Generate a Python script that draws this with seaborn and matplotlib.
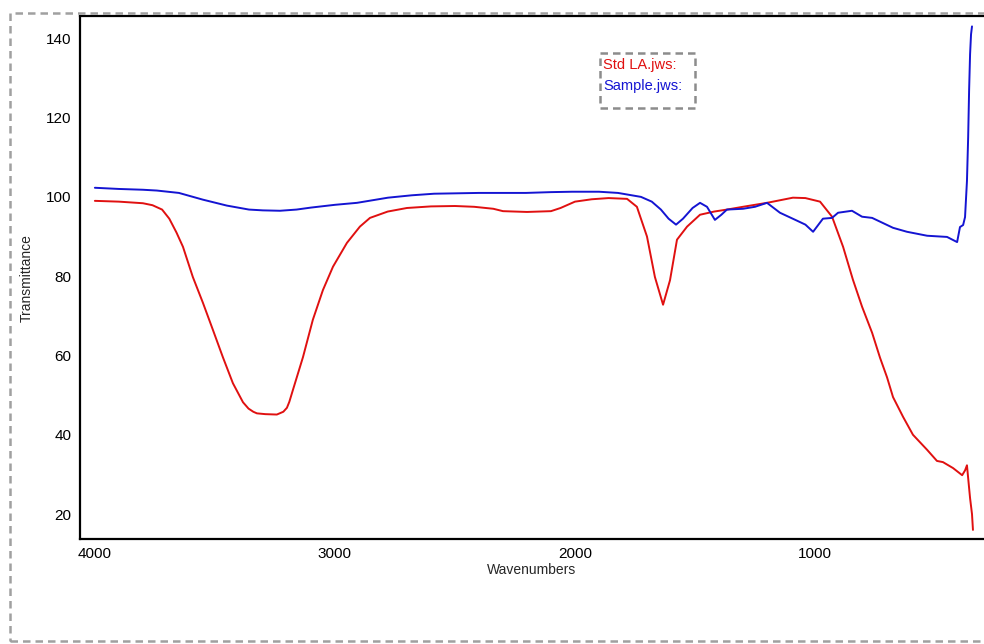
import pandas as pd
import seaborn as sns
import numpy as np
import matplotlib.pyplot as plt
from matplotlib.patches import Rectangle

# Std LA.jws spectrum (wavenumber, %T)
red_wn = [4000, 3900, 3800, 3760, 3720, 3690, 3660, 3633, 3592, 3550, 3508, 3467,
          3425, 3383, 3360, 3340, 3325, 3290, 3242, 3215, 3200, 3190, 3175, 3133,
          3092, 3050, 3008, 2950, 2896, 2854, 2780, 2700, 2600, 2500, 2420, 2340,
          2300, 2200, 2100, 2060, 2000, 1930, 1860, 1783, 1742, 1700, 1667, 1633,
          1604, 1575, 1533, 1479, 1420, 1367, 1300, 1200, 1092, 1040, 979, 929, 883,
          842, 804, 762, 729, 700, 675, 633, 592, 533, 492, 467, 425, 387, 375, 367,
          360, 354, 346, 342]
red_t = [99.0, 98.8, 98.4, 97.9, 96.8, 94.5, 91.0, 87.4, 79.8, 73.3, 66.4, 59.6,
         53.0, 48.2, 46.6, 45.8, 45.4, 45.2, 45.1, 45.8, 46.8, 48.3, 51.3, 59.6,
         69.0, 76.5, 82.4, 88.4, 92.5, 94.7, 96.3, 97.2, 97.6, 97.7, 97.5, 97.0,
         96.4, 96.2, 96.4, 97.2, 98.8, 99.4, 99.7, 99.5, 97.5, 90.0, 79.8, 72.8,
         79.0, 89.2, 92.5, 95.5, 96.3, 96.8, 97.5, 98.5, 99.8, 99.7, 98.8, 95.0, 87.4,
         79.1, 72.3, 65.7, 59.4, 54.5, 49.5, 44.5, 40.0, 36.2, 33.4, 33.1, 31.6, 29.8,
         31.0, 32.3, 27.8, 24.0, 20.0, 16.0]

# Sample.jws spectrum
blue_wn = [4000, 3900, 3800, 3742, 3650, 3550, 3450, 3358, 3300, 3229, 3160, 3100,
           3000, 2908, 2779, 2680, 2587, 2400, 2204, 2100, 2012, 1900, 1821, 1725,
           1680, 1642, 1610, 1579, 1550, 1510, 1479, 1450, 1417, 1390, 1367, 1300,
           1250, 1200, 1146, 1075, 1040, 1008, 967, 929, 904, 846, 804, 762, 675,
           617, 533, 450, 408, 396, 383, 375, 367, 362, 358, 354, 350, 346]
blue_t = [102.3, 102.0, 101.8, 101.6, 101.0, 99.3, 97.8, 96.8, 96.6, 96.5, 96.8, 97.3,
          98.0, 98.5, 99.8, 100.4, 100.8, 101.0, 101.0, 101.2, 101.3, 101.3, 101.0, 100.0,
          98.8, 96.8, 94.5, 93.0, 94.5, 97.2, 98.5, 97.5, 94.2, 95.5, 96.8, 97.0,
          97.5, 98.5, 96.0, 94.0, 93.0, 91.2, 94.5, 94.7, 96.0, 96.5, 95.0, 94.7, 92.2,
          91.2, 90.2, 89.9, 88.6, 92.4, 92.9, 94.9, 104.0, 115.0, 127.0, 136.0, 141.0, 143.0]

series_names = ["Std LA.jws:", "Sample.jws:"]
series_colors = ["#e01010", "#1414d2"]

df = pd.concat([
    pd.DataFrame({"wn": red_wn, "T": red_t, "series": series_names[0]}),
    pd.DataFrame({"wn": blue_wn, "T": blue_t, "series": series_names[1]}),
])

sns.set_style("white")
plt.rcParams['font.family'] = ['Liberation Sans', 'DejaVu Sans']

fig = plt.figure(figsize=(9.84, 6.44), dpi=100)
ax = fig.add_axes([0.0813, 0.163, 0.9187, 0.812])

sns.lineplot(data=df, x="wn", y="T", hue="series", palette=series_colors,
             sort=False, estimator=None, lw=1.4, legend=False, ax=ax)

ax.set_xlim(4062, 296)
ax.set_ylim(13.7, 145.6)
ax.set_xticks([4000, 3000, 2000, 1000])
ax.set_yticks([20, 40, 60, 80, 100, 120, 140])
ax.tick_params(direction='out', length=4, width=1.3, colors='black',
               labelsize=11, pad=2)
ax.set_xlabel("Wavenumbers", fontsize=10, labelpad=1)
ax.set_ylabel("Transmittance", fontsize=10, labelpad=9)

for side in ['left', 'bottom', 'top']:
    ax.spines[side].set_color('black')
    ax.spines[side].set_linewidth(1.6)
ax.spines['right'].set_visible(False)

# legend box, dashed like the original software
ax.add_patch(Rectangle((0.575, 0.824), 0.105, 0.105, transform=ax.transAxes,
                       fill=False, edgecolor='#8c8c8c', lw=1.8, ls=(0, (3, 2))))
ax.text(0.5785, 0.906, series_names[0], color=series_colors[0], fontsize=10.5,
        transform=ax.transAxes, va='center')
ax.text(0.5785, 0.866, series_names[1], color=series_colors[1], fontsize=10.5,
        transform=ax.transAxes, va='center')

# dashed outer border of the figure
fig.add_artist(Rectangle((0.0102, 0.0047), 1.2, 0.9751, transform=fig.transFigure,
                         fill=False, edgecolor='#a0a0a0', lw=1.8, ls=(0, (3, 2)),
                         clip_on=False))

fig.savefig("out.png", dpi=100)
